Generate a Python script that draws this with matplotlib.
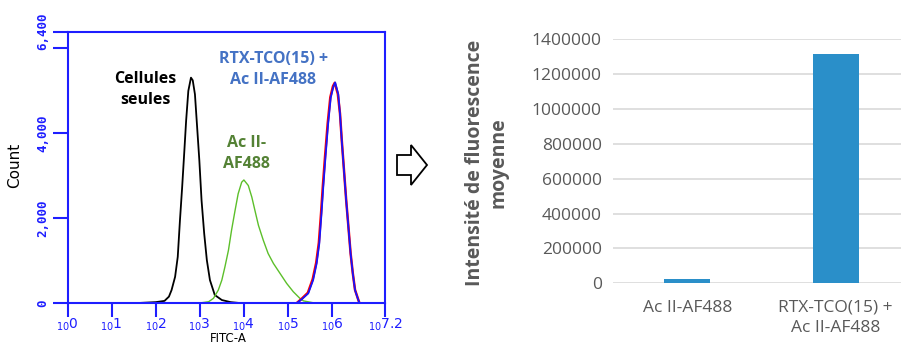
import numpy as np
import matplotlib.pyplot as plt
from matplotlib.patches import Polygon

# histogram traces (log10 of FITC-A, count)
black_log = [1.6, 2.0, 2.2, 2.3, 2.36, 2.44, 2.50, 2.55, 2.60, 2.65, 2.69, 2.74, 2.80, 2.84,
             2.89, 2.94, 2.99, 3.04, 3.10, 3.16, 3.23, 3.34, 3.50, 3.7, 3.9]
black_cnt = [0, 20, 50, 150, 305, 617, 1087, 1948, 2730, 3590, 4296, 5000, 5312, 5250,
             4920, 4140, 3357, 2418, 1636, 1010, 540, 188, 70, 20, 0]

green_log = [2.6, 3.0, 3.2, 3.31, 3.42, 3.50, 3.57, 3.65, 3.72, 3.80, 3.87, 3.95, 4.00, 4.10,
             4.18, 4.25, 4.33, 4.44, 4.55, 4.67, 4.82, 4.97, 5.12, 5.27, 5.35, 5.6, 6.6]
green_cnt = [0, 0, 30, 110, 305, 540, 852, 1244, 1714, 2183, 2575, 2848, 2900, 2770,
             2496, 2183, 1831, 1479, 1166, 932, 697, 462, 266, 110, 50, 0, 0]

red_log = [5.2, 5.30, 5.45, 5.56, 5.64, 5.70, 5.75, 5.79, 5.84, 5.90, 5.96, 6.02, 6.06, 6.13,
           6.18, 6.22, 6.27, 6.32, 6.37, 6.42, 6.47, 6.52, 6.59, 6.62]
red_cnt = [0, 90, 240, 560, 950, 1420, 2120, 2750, 3450, 4230, 4850, 5110, 5190, 4930,
           4460, 3830, 3130, 2420, 1800, 1170, 700, 310, 90, 0]

blue_log = [5.2, 5.31, 5.46, 5.57, 5.65, 5.71, 5.76, 5.80, 5.85, 5.91, 5.97, 6.03, 6.07, 6.14,
            6.18, 6.22, 6.27, 6.32, 6.37, 6.42, 6.47, 6.52, 6.59, 6.62]
blue_cnt = [0, 86, 227, 540, 932, 1401, 2105, 2730, 3434, 4218, 4843, 5100, 5200, 4922,
            4453, 3826, 3122, 2418, 1791, 1166, 697, 305, 86, 0]

# bar chart
categories = ['Ac II-AF488', 'RTX-TCO(15) +\nAc II-AF488']
mfi = [22000, 1318000]

W, H = 901, 344
fig = plt.figure(figsize=(W / 100, H / 100), dpi=100)
frame_blue = '#1e1eff'

# ---- left: flow histogram ----
ax1 = fig.add_axes([67.5 / W, (H - 303) / H, (385 - 67.5) / W, (303 - 31.5) / H])
ax1.plot(10 ** np.array(black_log), black_cnt, color='black', lw=1.3)
ax1.plot(10 ** np.array(green_log), green_cnt, color='#5cbf2a', lw=1.0)
ax1.plot(10 ** np.array(red_log), red_cnt, color='red', lw=1.8)
ax1.plot(10 ** np.array(blue_log), blue_cnt, color='#1414ff', lw=1.3)
ax1.set_xscale('log')
ax1.set_xlim(1, 10 ** 7.2)
ax1.set_ylim(0, 6400)
for s in ax1.spines.values():
    s.set_color(frame_blue)
    s.set_linewidth(1.5)

xt = [10.0 ** e for e in range(7)] + [10 ** 7.2]
xl = [r'$_{10}%d$' % e for e in range(7)] + [r'$_{10}7.2$']
ax1.set_xticks(xt)
ax1.set_xticklabels(xl)
ax1.xaxis.set_minor_locator(plt.matplotlib.ticker.LogLocator(base=10, subs=np.arange(2, 10)))
ax1.xaxis.set_minor_formatter(plt.NullFormatter())
ax1.tick_params(axis='x', which='major', length=10, width=1.5, colors=frame_blue,
                labelsize=10, pad=0)
ax1.tick_params(axis='x', which='minor', length=8, width=1.5, colors=frame_blue)
ax1.set_yticks([0, 2000, 4000, 6400])
ax1.set_yticklabels(['0', '2,000', '4,000', '6,400'], rotation=90, va='center')
ax1.set_yticks([6000], minor=True)
ax1.tick_params(axis='y', which='both', length=11, width=1.5, colors=frame_blue,
                labelsize=9, pad=2)
for lab in ax1.get_yticklabels():
    lab.set_fontfamily('DejaVu Sans Mono')
    lab.set_fontweight('bold')

fig.text(15 / W, 1 - 165 / H, 'Count', rotation=90, ha='center', va='center',
         fontsize=11, color='black')
fig.text(228 / W, 1 - 331.5 / H, 'FITC-A', ha='center', va='top', fontsize=8.5,
         color='black')

ax1.text(10 ** 1.76, 5035, 'Cellules\nseules', ha='center', va='center', fontsize=11.5,
         fontweight='bold', color='black', family='Open Sans', linespacing=1.4)
ax1.text(10 ** 4.67, 5505, 'RTX-TCO(15) +\nAc II-AF488', ha='center', va='center',
         fontsize=11.5, fontweight='bold', color='#4472c4', family='Open Sans',
         linespacing=1.4)
ax1.text(10 ** 4.05, 3533, 'Ac II-\nAF488', ha='center', va='center', fontsize=11.5,
         fontweight='bold', color='#548235', family='Open Sans', linespacing=1.4)

# hollow arrow between the panels (pixel coords)
arrow_px = [(397, 155), (411, 155), (411, 145), (427, 165), (411, 185), (411, 175), (397, 175)]
fig.patches.append(Polygon([(x / W, 1 - y / H) for x, y in arrow_px], closed=True,
                           transform=fig.transFigure, facecolor='white',
                           edgecolor='black', lw=1.3))

# ---- right: bar chart ----
ax2 = fig.add_axes([613 / W, (H - 283.3) / H, 297 / W, (283.3 - 39.3) / H])
ax2.bar(range(len(categories)), mfi, width=0.31, color='#2a8fc9', zorder=3)
ax2.set_xlim(-0.5, 1.5)
ax2.set_ylim(0, 1400000)
ax2.set_yticks(np.arange(0, 1400001, 200000))
ax2.set_yticklabels([str(v) for v in range(0, 1400001, 200000)])
ax2.grid(axis='y', color='#d9d9d9', lw=1.2, zorder=0)
for s in ax2.spines.values():
    s.set_visible(False)
ax2.set_xticks(range(len(categories)))
ax2.set_xticklabels(categories, linespacing=1.3)
ax2.tick_params(length=0, colors='#595959', labelsize=12.5, pad=8)
ax2.tick_params(axis='x', pad=12)
for lab in ax2.get_xticklabels() + ax2.get_yticklabels():
    lab.set_fontfamily('Open Sans')
fig.text(487 / W, 1 - 163 / H, 'Intensité de fluorescence\nmoyenne', rotation=90,
         ha='center', va='center', fontsize=14, fontweight='bold', color='#595959',
         family='Open Sans', linespacing=1.25)

fig.savefig('out.png', dpi=100)
